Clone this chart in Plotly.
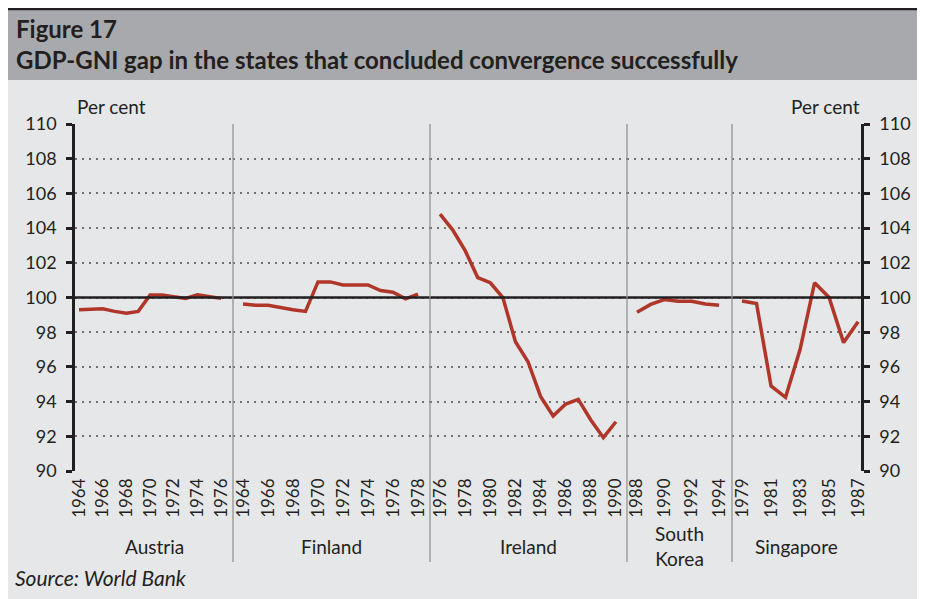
import plotly.graph_objects as go

# --- data ---
countries = ["Austria", "Finland", "Ireland", "South<br>Korea", "Singapore"]

austria_years = ["1964", "1965", "1966", "1967", "1968", "1969", "1970", "1971", "1972",
                 "1973", "1974", "1975", "1976"]
austria = [99.3, 99.3, 99.35, 99.2, 99.1, 99.2, 100.15, 100.15, 100.05, 99.95, 100.15, 100.05, 99.95]

finland_years = ["1964", "1965", "1966", "1967", "1968", "1969", "1970", "1971", "1972",
                 "1973", "1974", "1975", "1976", "1977", "1978"]
finland = [99.63, 99.55, 99.55, 99.4, 99.3, 99.2, 100.9, 100.9, 100.72, 100.72, 100.72,
           100.4, 100.3, 99.92, 100.2]

ireland_years = ["1976", "1977", "1978", "1979", "1980", "1981", "1982", "1983", "1984",
                 "1985", "1986", "1987", "1988", "1989", "1990"]
ireland = [104.8, 103.9, 102.7, 101.15, 100.85, 100.0, 97.45, 96.3, 94.3, 93.17, 93.86,
           94.13, 92.94, 91.92, 92.84]

korea_years = ["1988", "1989", "1990", "1991", "1992", "1993", "1994"]
korea = [99.15, 99.6, 99.88, 99.78, 99.78, 99.62, 99.55]

singapore_years = ["1979", "1980", "1981", "1982", "1983", "1984", "1985", "1986", "1987"]
singapore = [99.8, 99.65, 94.9, 94.25, 97.0, 100.85, 100.0, 97.4, 98.6]

baseline = 100

series = [
    (austria_years, austria),
    (finland_years, finland),
    (ireland_years, ireland),
    (korea_years, korea),
    (singapore_years, singapore),
]

# --- layout helpers ---
# the page body has an 8px margin, so the figure sits at (8, 8) in the window
OFF = 8
W, H = 925 - OFF, 599 - OFF
L, R, T, B = 75 - OFF, 64, 124 - OFF, 128
PW, PH = W - L - R, H - T - B


def px(x):
    # window pixel -> paper x
    return (x - OFF - L) / PW


def py(y):
    # window pixel (from top) -> paper y
    return (H - B - (y - OFF)) / PH


FONT = "Lato"
DARK = "#231f20"
LINE = "#b0362a"
PANEL = "#e6e7e8"
BAND = "#a7a9ac"

# panel edges in window pixels, and the visible category range of each panel
edges = [75, 233, 430, 627, 732, 861]
ranges = [[-0.34, 13.0], [-0.8, 14.96], [-0.8, 14.88], [-0.73, 6.95], [-0.69, 8.2]]

fig = go.Figure()

for i, (years, vals) in enumerate(series):
    xa = "x" if i == 0 else f"x{i + 1}"
    ya = "y2" if i == len(series) - 1 else "y"
    fig.add_trace(go.Scatter(x=years, y=vals, mode="lines", xaxis=xa, yaxis=ya,
                             line=dict(color=LINE, width=3.5), hoverinfo="x+y"))

    ax = dict(domain=[px(edges[i]), px(edges[i + 1])], type="category", range=ranges[i],
              tickmode="array", tickvals=years[::2], tickangle=-90, ticklabelstandoff=3,
              tickfont=dict(family=FONT, size=17, color=DARK),
              showgrid=False, showline=False, zeroline=False, ticks="", anchor="y")
    fig.layout["xaxis" if i == 0 else f"xaxis{i + 1}"] = ax

yaxis_common = dict(range=[90, 110], dtick=2, showgrid=True, griddash="2px,5px",
                    gridcolor="#717171", gridwidth=1.5, showline=True, linewidth=2.5,
                    linecolor=DARK, ticks="outside", ticklen=6, tickwidth=2.5,
                    tickcolor=DARK, zeroline=False, ticklabelstandoff=6,
                    tickfont=dict(family=FONT, size=18, color=DARK))
fig.update_layout(
    yaxis=dict(yaxis_common, anchor="x", side="left"),
    yaxis2=dict(yaxis_common, anchor="x5", side="right"),
)

shapes = [
    # title band and the dark rule on top of it
    dict(type="rect", xref="paper", yref="paper", x0=px(7), x1=px(925), y0=py(80), y1=py(9.5),
         fillcolor=BAND, line_width=0, layer="below"),
    dict(type="line", xref="paper", yref="paper", x0=px(7), x1=px(925), y0=py(9), y1=py(9),
         line=dict(color=DARK, width=2.5)),
    # 100 reference line
    dict(type="line", xref="paper", yref="y", x0=0, x1=1, y0=baseline, y1=baseline,
         line=dict(color=DARK, width=2.5)),
]
# group separators
for e in edges[1:-1]:
    shapes.append(dict(type="line", xref="paper", yref="paper", x0=px(e), x1=px(e),
                       y0=py(562), y1=1, line=dict(color="#929292", width=1.3)))

annotations = [
    dict(text="<b>Figure 17<br>GDP-GNI gap in the states that concluded convergence successfully</b>",
         x=px(14), y=py(44), xanchor="left", yanchor="middle", align="left",
         font=dict(family=FONT, size=24, color=DARK)),
    dict(text="Per cent", x=px(75), y=py(106), xanchor="left", yanchor="middle",
         font=dict(family=FONT, size=19, color=DARK)),
    dict(text="Per cent", x=px(862), y=py(106), xanchor="right", yanchor="middle",
         font=dict(family=FONT, size=19, color=DARK)),
    dict(text="<i>Source: World Bank</i>", x=px(13), y=py(577), xanchor="left",
         yanchor="middle", font=dict(family=FONT, size=21, color=DARK)),
]
for i, name in enumerate(countries):
    annotations.append(dict(text=name, x=px((edges[i] + edges[i + 1]) / 2), y=py(546),
                            xanchor="center", yanchor="middle",
                            font=dict(family=FONT, size=19, color=DARK)))

for a in annotations:
    a.update(xref="paper", yref="paper", showarrow=False)

fig.update_layout(
    width=W, height=H,
    margin=dict(l=L, r=R, t=T, b=B),
    paper_bgcolor=PANEL, plot_bgcolor=PANEL,
    showlegend=False,
    shapes=shapes, annotations=annotations,
)

fig.write_html("out.html")
